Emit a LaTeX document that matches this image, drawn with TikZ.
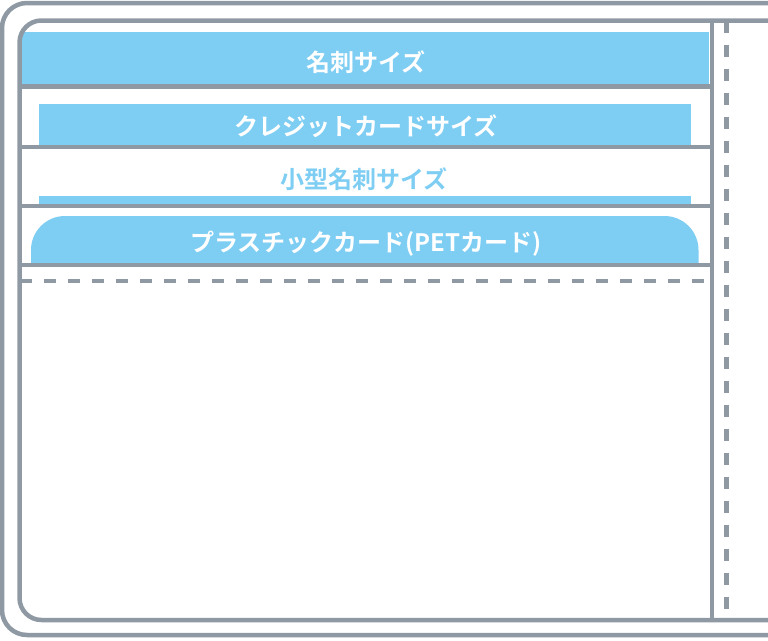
\documentclass[tikz,border=0pt]{standalone}
\usepackage{fontspec}
\newfontfamily\jpfont{Noto Sans CJK JP}[BoldFont={Noto Sans CJK JP Bold}]
\usetikzlibrary{positioning}
\definecolor{wallet}{RGB}{143,153,164}
\definecolor{cardblue}{RGB}{126,205,243}

\begin{document}
\begin{tikzpicture}[x=1pt,y=-1pt]
		\tikzstyle{frame}=[draw=wallet,line width=4.5pt]
		\tikzstyle{seam}=[frame,dash pattern=on 12pt off 12pt]
		\tikzstyle{card}=[fill=cardblue,draw=none,inner sep=0pt]
		\tikzstyle{label}=[text=white,font=\jpfont\bfseries\fontsize{24}{28}\selectfont]
		\useasboundingbox (0,0) rectangle (768,640);
		\clip (0,0) rectangle (768,640);
		% cards in their pockets
		\node[card,minimum width=687pt,minimum height=54pt] (meishi) at (365.5,59) {};
		\node[label] at (366,62) {名刺サイズ};
		\node[card,minimum width=652pt,minimum height=43pt] (credit) at (365,125.5) {};
		\node[label] at (366,126) {クレジットカードサイズ};
		\node[card,minimum width=652pt,minimum height=10pt] (small) at (365,201) {};
		\node[label,text=cardblue] at (364,179) {小型名刺サイズ};
		\fill[cardblue] (31,266) -- (31,250) [rounded corners=34pt] -- (31,216) -- (698.5,216) [sharp corners] -- (698.5,250) -- (698.5,266) -- cycle;
		\node[label] (pet) at (366,244) {プラスチックカード(PETカード)};
		% wallet body
		\draw[frame,rounded corners=25pt] (2,3) rectangle (800,635);
		\draw[frame,rounded corners=22pt] (19.5,20.5) rectangle (800,620);
		\foreach \y in {86.5,147,206,265}
			\draw[frame] (19.5,\y) -- (714,\y);
		\draw[seam] (19.5,281) -- (712,281);
		\draw[frame] (712,20.5) -- (712,620);
		\draw[seam] (726.5,20.5) -- (726.5,620);
		\end{tikzpicture}
\end{document}
